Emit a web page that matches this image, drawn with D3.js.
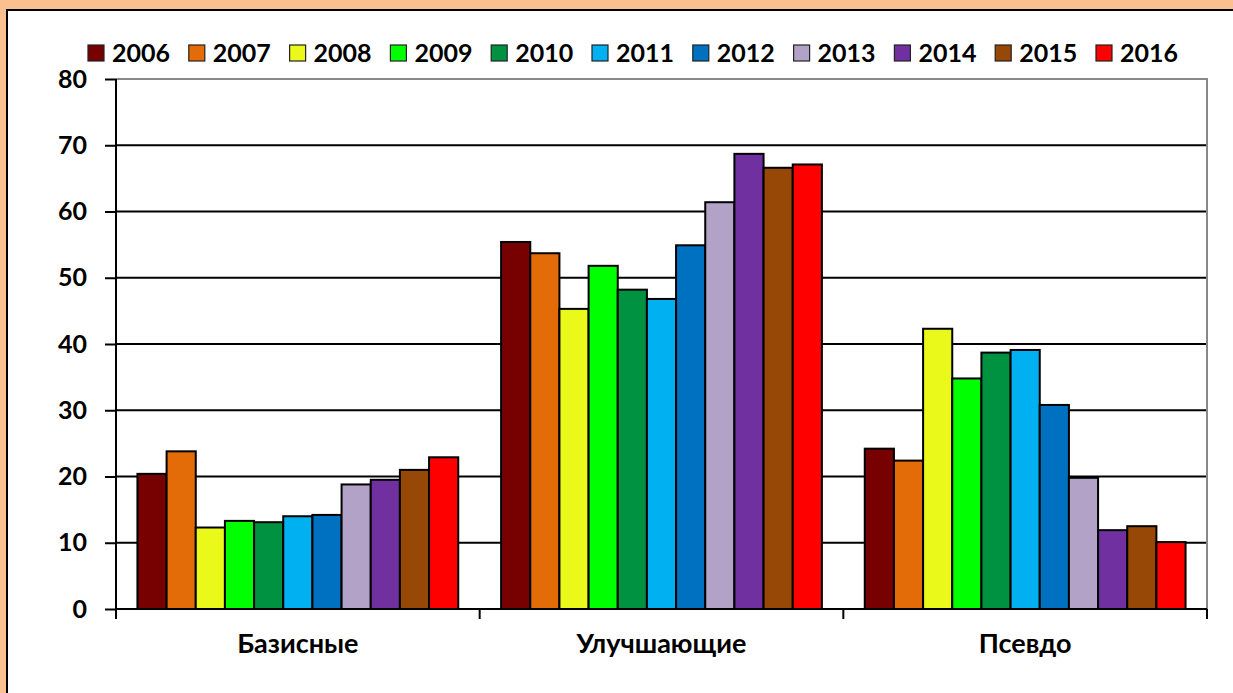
<!DOCTYPE html>
<html>
<head>
<meta charset="utf-8">
<script src="https://cdn.jsdelivr.net/npm/d3@7"></script>
<style>
  body { margin: 0; background: #FAC090; overflow: hidden; }
  svg { display: block; }
  text { font-family: Lato, "Open Sans", sans-serif; font-weight: bold; fill: #000; }
</style>
</head>
<body>
<script>
// data
const categories = ["Базисные", "Улучшающие", "Псевдо"];
const years = ["2006", "2007", "2008", "2009", "2010", "2011", "2012", "2013", "2014", "2015", "2016"];
const colors = ["#770000", "#E36C09", "#EAF81A", "#00FF00", "#009141", "#00B0F0", "#0070C0", "#B3A2C7", "#7030A0", "#974806", "#FF0000"];
const basic = [20.4, 23.8, 12.3, 13.3, 13.1, 14.0, 14.2, 18.8, 19.5, 21.0, 22.9];
const improving = [55.4, 53.7, 45.3, 51.8, 48.2, 46.8, 54.9, 61.4, 68.7, 66.6, 67.1];
const pseudo = [24.2, 22.4, 42.3, 34.8, 38.7, 39.1, 30.8, 19.8, 11.9, 12.5, 10.1];
const yTicks = [0, 10, 20, 30, 40, 50, 60, 70, 80];

const series = [basic, improving, pseudo];

const w = 1233, h = 693;
const plot = { left: 116, right: 1207, top: 79, bottom: 609 };

const svg = d3.select("body").append("svg")
    .attr("width", w)
    .attr("height", h);

//white panel with border on top and left
svg.append("rect")
    .attr("x", 7).attr("y", 10)
    .attr("width", w).attr("height", h)
    .style("fill", "#fff")
    .style("stroke", "#000")
    .style("stroke-width", 2);

//scales
const x = d3.scaleBand()
    .domain(categories)
    .range([plot.left, plot.right]);

const xInner = d3.scaleBand()
    .domain(years)
    .range([0, x.bandwidth()])
    .paddingInner(0)
    .paddingOuter(0.735);

const y = d3.scaleLinear()
    .domain([0, 80])
    .range([plot.bottom, plot.top]);

//gridlines
svg.append("g")
    .selectAll("line")
    .data(yTicks.filter(d => d > 0 && d < 80))
    .enter()
    .append("line")
    .attr("x1", plot.left).attr("x2", plot.right)
    .attr("y1", d => y(d)).attr("y2", d => y(d))
    .style("stroke", "#000")
    .style("stroke-width", 2);

//plot border (top and right, grey)
svg.append("path")
    .attr("d", `M${plot.left},${y(80)}H${plot.right}V${plot.bottom}`)
    .style("fill", "none")
    .style("stroke", "#888")
    .style("stroke-width", 2);

//bars
const groups = svg.append("g")
    .selectAll("g")
    .data(categories)
    .enter()
    .append("g")
    .attr("transform", d => `translate(${x(d)},0)`);

groups.selectAll("rect")
    .data((d, i) => series[i].map((v, j) => ({ year: years[j], value: v, color: colors[j] })))
    .enter()
    .append("rect")
    .attr("x", d => xInner(d.year))
    .attr("width", xInner.bandwidth())
    .attr("y", d => y(d.value))
    .attr("height", d => y(0) - y(d.value))
    .style("fill", d => d.color)
    .style("stroke", "#000")
    .style("stroke-width", 2);

//y axis
const yAxis = d3.axisLeft(y)
    .tickValues(yTicks)
    .tickSize(11)
    .tickPadding(18);

svg.append("g")
    .attr("transform", `translate(${plot.left},0)`)
    .call(yAxis)
    .call(g => g.select(".domain").attr("stroke-width", 2).attr("d", `M0,${y(80)}V${plot.bottom}`))
    .call(g => g.selectAll(".tick line").attr("stroke-width", 2))
    .call(g => g.selectAll("text").style("font-size", "25px").style("font-family", "Lato, sans-serif"));

//x axis
const xAxis = d3.axisBottom(x)
    .tickSize(0)
    .tickPadding(25);

svg.append("g")
    .attr("transform", `translate(0,${plot.bottom})`)
    .call(xAxis)
    .call(g => g.select(".domain").attr("stroke-width", 2).attr("d", `M${plot.left},0H${plot.right}`))
    .call(g => g.selectAll("text").style("font-size", "27px").style("font-family", "Lato, sans-serif"));

//x tick marks at band edges
svg.append("g")
    .selectAll("line")
    .data(categories.concat(["end"]))
    .enter()
    .append("line")
    .attr("x1", (d, i) => i < categories.length ? x(d) : plot.right)
    .attr("x2", (d, i) => i < categories.length ? x(d) : plot.right)
    .attr("y1", plot.bottom)
    .attr("y2", plot.bottom + 10)
    .style("stroke", "#000")
    .style("stroke-width", 2);

//legend
const legendX = d3.scaleBand()
    .domain(years)
    .range([88, 88 + 100.8 * years.length]);

const legend = svg.append("g")
    .selectAll("g")
    .data(years)
    .enter()
    .append("g")
    .attr("transform", d => `translate(${legendX(d)},45)`);

legend.append("rect")
    .attr("width", 16).attr("height", 16)
    .style("fill", (d, i) => colors[i])
    .style("stroke", "#222")
    .style("stroke-width", 1.2);

legend.append("text")
    .attr("x", 24)
    .attr("y", 17)
    .style("font-size", "25px")
    .text(d => d);
</script>
</body>
</html>
